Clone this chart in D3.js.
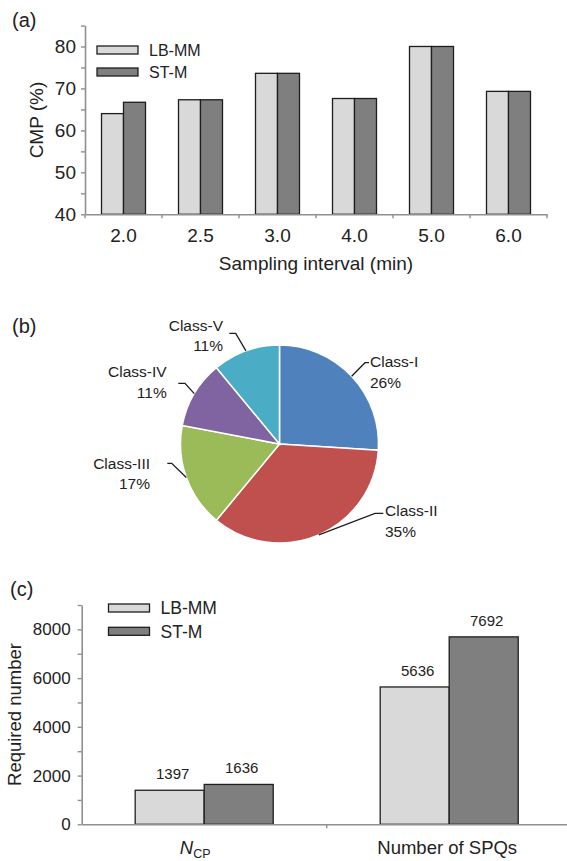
<!DOCTYPE html>
<html>
<head>
<meta charset="utf-8">
<script src="https://cdn.jsdelivr.net/npm/d3@7"></script>
<style>
  html, body { margin: 0; padding: 0; background: #fff; }
  svg { display: block; font-family: "Liberation Sans", Arial, sans-serif; }
  text { fill: #222; }
</style>
</head>
<body>
<svg id="fig" width="567" height="861"></svg>
<script>
// ---- data ----
const seriesNames = ["LB-MM", "ST-M"];

// (a) CMP by sampling interval
const intervals = ["2.0", "2.5", "3.0", "4.0", "5.0", "6.0"];
const cmpLBMM = [64.0, 67.3, 73.6, 67.6, 80.0, 69.3];
const cmpSTM  = [66.7, 67.3, 73.6, 67.6, 80.0, 69.3];
const cmpTicks = [40, 45, 50, 55, 60, 65, 70, 75, 80, 85];

// (b) class shares (%)
const classNames  = ["Class-I", "Class-II", "Class-III", "Class-IV", "Class-V"];
const classShares = [26, 35, 17, 11, 11];
const classColors = ["#4f81bd", "#c0504d", "#9bbb59", "#8064a2", "#4bacc6"];

// (c) required numbers
const reqCategories = ["NCP", "Number of SPQs"];
const reqLBMM = [1397, 5636];
const reqSTM  = [1636, 7692];
const reqTicks = [0, 1000, 2000, 3000, 4000, 5000, 6000, 7000, 8000, 9000];

const seriesFill = { "LB-MM": "#d9d9d9", "ST-M": "#7f7f7f" };
const axisColor = "#8f8f8f";
const barStroke = "#1e1e1e";

const svg = d3.select("#fig");

// ---------- shared helpers ----------
function styleAxis(g) {
  g.select(".domain").attr("stroke", axisColor).attr("stroke-width", 1.6);
  g.selectAll(".tick line").attr("stroke", axisColor).attr("stroke-width", 1.4);
  g.selectAll(".tick text").attr("fill", "#222");
}

function drawLegend(g, x, y0, gap, fontSize) {
  seriesNames.forEach((s, i) => {
    const y = y0 + i * gap;
    g.append("rect").attr("x", x).attr("y", y - 4).attr("width", 41).attr("height", 8)
      .attr("fill", seriesFill[s]).attr("stroke", barStroke).attr("stroke-width", 1.3);
    g.append("text").attr("x", x + 52).attr("y", y).attr("dy", "0.36em")
      .attr("font-size", fontSize).text(s);
  });
}

// ---------- (a) ----------
{
  const g = svg.append("g");
  const x = d3.scaleBand().domain(intervals).range([85, 547]);
  const xs = d3.scaleBand().domain(seriesNames).range([0, x.bandwidth()]).paddingOuter(0.75);
  const y = d3.scaleLinear().domain([40, 85]).range([214.3, 25.5]);

  const rows = intervals.map((k, i) => ({ k, v: { "LB-MM": cmpLBMM[i], "ST-M": cmpSTM[i] } }));
  const grp = g.selectAll("g.grp").data(rows).join("g")
    .attr("transform", d => `translate(${x(d.k)},0)`);
  grp.selectAll("rect").data(d => seriesNames.map(s => ({ s, v: d.v[s] }))).join("rect")
    .attr("x", d => xs(d.s)).attr("width", xs.bandwidth())
    .attr("y", d => y(d.v)).attr("height", d => y(40) - y(d.v))
    .attr("fill", d => seriesFill[d.s]).attr("stroke", barStroke).attr("stroke-width", 1.3);

  const yAxis = g.append("g").attr("transform", "translate(85,0)")
    .call(d3.axisLeft(y).tickValues(cmpTicks).tickSize(4).tickSizeOuter(0).tickPadding(5)
      .tickFormat(d => d % 10 === 0 ? d : ""));
  yAxis.selectAll(".tick text").attr("font-size", 19).attr("font-family", null);
  styleAxis(yAxis);

  // category axis: line with ticks at group boundaries
  const xAxis = g.append("g").attr("transform", "translate(0,214.3)")
    .call(d3.axisBottom(x).tickSize(0).tickSizeOuter(0).tickPadding(16));
  xAxis.selectAll(".tick text").attr("font-size", 19).attr("font-family", null).attr("dy", "0.6em");
  styleAxis(xAxis);
  xAxis.selectAll("line.sep").data(intervals.map(d => x(d) + x.bandwidth()).concat([x(intervals[0])]))
    .join("line").attr("class", "sep")
    .attr("x1", d => d).attr("x2", d => d).attr("y1", 0).attr("y2", 4)
    .attr("stroke", axisColor).attr("stroke-width", 1.4);

  g.append("text").attr("x", 316).attr("y", 270).attr("text-anchor", "middle")
    .attr("font-size", 19).text("Sampling interval (min)");
  g.append("text").attr("transform", "translate(43,120) rotate(-90)").attr("text-anchor", "middle")
    .attr("font-size", 19).text("CMP (%)");
  g.append("text").attr("x", 12).attr("y", 26.5).attr("font-size", 20).text("(a)");

  drawLegend(g, 97, 50, 22, 16);
}

// ---------- (b) ----------
{
  const g = svg.append("g");
  const cx = 279.5, cy = 444, r = 99;
  const pie = d3.pie().sort(null).value(d => d.v);
  const data = classNames.map((n, i) => ({ n, v: classShares[i], c: classColors[i] }));
  const arcs = pie(data);
  const arc = d3.arc().innerRadius(0).outerRadius(r);
  const pg = g.append("g").attr("transform", `translate(${cx},${cy})`);
  pg.selectAll("path").data(arcs).join("path")
    .attr("d", arc).attr("fill", d => d.data.c)
    .attr("stroke", "#fff").attr("stroke-width", 1.5);

  // label placement: elbow point, end of horizontal stub, text anchor point
  const labelLayout = [
    { ex: 365,   ey: 362.7, hx: 369,   tx: 370,   ty: 361.7, anchor: "start" },
    { ex: 375,   ey: 513.3, hx: 383.3, tx: 385,   ty: 510.7, anchor: "start" },
    { ex: 171.7, ey: 463.3, hx: 167.3, tx: 150,   ty: 463.3, anchor: "end" },
    { ex: 185,   ey: 383.3, hx: 178.3, tx: 166.7, ty: 371.7, anchor: "end" },
    { ex: 235.7, ey: 333.3, hx: 229.3, tx: 223,   ty: 325,   anchor: "end" }
  ];

  arcs.forEach((a, i) => {
    const L = labelLayout[i];
    const mid = (a.startAngle + a.endAngle) / 2;
    const px = cx + r * Math.sin(mid), py = cy - r * Math.cos(mid);
    g.append("path")
      .attr("d", d3.line()([[px, py], [L.ex, L.ey], [L.hx, L.ey]]))
      .attr("fill", "none").attr("stroke", "#1e1e1e").attr("stroke-width", 1.3);
    const t = g.append("text").attr("text-anchor", L.anchor).attr("font-size", 15.5);
    t.append("tspan").attr("x", L.tx).attr("y", L.ty).attr("dy", "0.36em").text(a.data.n);
    t.append("tspan").attr("x", L.tx).attr("y", L.ty + 20.5).attr("dy", "0.36em").text(a.data.v + "%");
  });

  g.append("text").attr("x", 12).attr("y", 332.5).attr("font-size", 20).text("(b)");
}

// ---------- (c) ----------
{
  const g = svg.append("g");
  const x = d3.scaleBand().domain(reqCategories).range([81.7, 571.7]);
  const xs = d3.scaleBand().domain(seriesNames).range([0, x.bandwidth()]).paddingOuter(0.775);
  const y = d3.scaleLinear().domain([0, 9000]).range([824.3, 605]);

  const rows = reqCategories.map((k, i) => ({ k, v: { "LB-MM": reqLBMM[i], "ST-M": reqSTM[i] } }));
  const grp = g.selectAll("g.grp").data(rows).join("g")
    .attr("transform", d => `translate(${x(d.k)},0)`);
  const cells = seriesNames.map(s => s);
  grp.selectAll("rect").data(d => cells.map(s => ({ s, v: d.v[s] }))).join("rect")
    .attr("x", d => xs(d.s)).attr("width", xs.bandwidth())
    .attr("y", d => y(d.v)).attr("height", d => y(0) - y(d.v))
    .attr("fill", d => seriesFill[d.s]).attr("stroke", barStroke).attr("stroke-width", 1.3);
  grp.selectAll("text.val").data(d => cells.map(s => ({ s, v: d.v[s] }))).join("text")
    .attr("class", "val").attr("text-anchor", "middle").attr("font-size", 15)
    .attr("x", d => xs(d.s) + xs.bandwidth() / 2 + 3).attr("y", d => y(d.v) - 11)
    .text(d => d.v);

  const yAxis = g.append("g").attr("transform", "translate(81.7,0)")
    .call(d3.axisLeft(y).tickValues(reqTicks).tickSize(4).tickSizeOuter(0).tickPadding(7)
      .tickFormat(d => d % 2000 === 0 ? d : ""));
  yAxis.selectAll(".tick text").attr("font-size", 17).attr("font-family", null);
  styleAxis(yAxis);

  const xAxis = g.append("g").attr("transform", "translate(0,824.3)")
    .call(d3.axisBottom(x).tickSize(0).tickSizeOuter(0).tickFormat(""));
  styleAxis(xAxis);
  xAxis.append("line").attr("x1", x(reqCategories[1])).attr("x2", x(reqCategories[1]))
    .attr("y1", 0).attr("y2", 4).attr("stroke", axisColor).attr("stroke-width", 1.4);

  // category labels
  const c0 = x(reqCategories[0]) + x.bandwidth() / 2 - 9;
  const n = g.append("text").attr("x", c0).attr("y", 854.3).attr("text-anchor", "middle").attr("font-size", 18.5);
  n.append("tspan").attr("font-style", "italic").text("N");
  n.append("tspan").attr("font-size", 12.5).attr("dy", 3.5).text("CP");
  g.append("text").attr("x", x(reqCategories[1]) + x.bandwidth() / 2 - 2).attr("y", 854.3)
    .attr("text-anchor", "middle").attr("font-size", 18.5).text(reqCategories[1]);

  g.append("text").attr("transform", "translate(20.5,714.5) rotate(-90)").attr("text-anchor", "middle")
    .attr("font-size", 18.5).text("Required number");
  g.append("text").attr("x", 10).attr("y", 595.8).attr("font-size", 20).text("(c)");

  drawLegend(g, 108.5, 608, 23.3, 17.5);
}
</script>
</body>
</html>
